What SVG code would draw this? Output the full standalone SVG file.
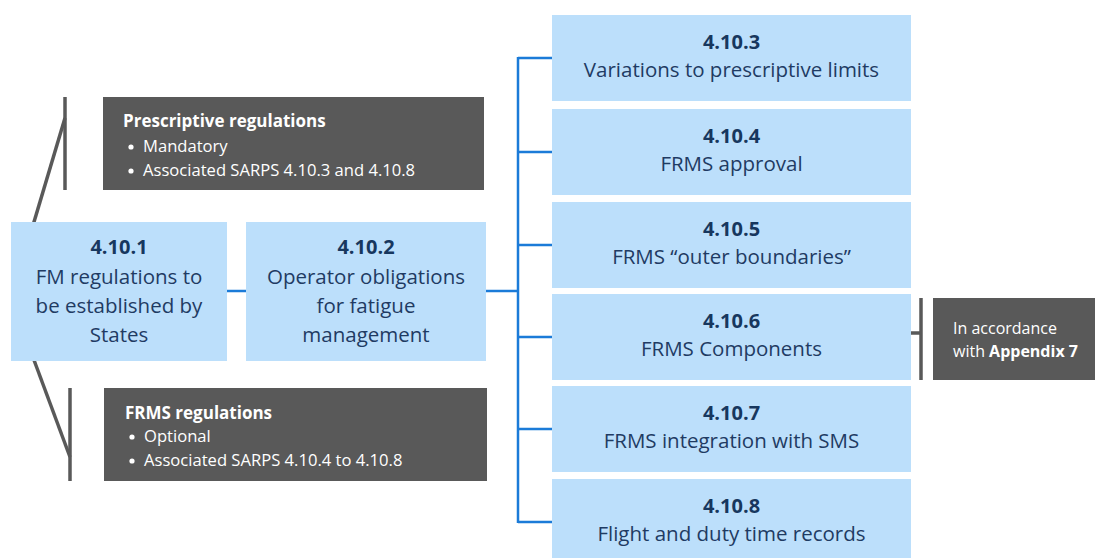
<svg xmlns="http://www.w3.org/2000/svg" width="1095" height="558" viewBox="0 0 1095 558">
<style>
.lb{fill:#bcdffb;}
.db{fill:#595959;}
.num{font-family:"Open Sans","Liberation Sans",sans-serif;font-size:20px;font-weight:bold;fill:#17375e;text-anchor:middle;}
.lbl{font-family:"Open Sans","Liberation Sans",sans-serif;font-size:20.5px;fill:#1f3b63;text-anchor:middle;}
.dt{font-family:"Open Sans","Liberation Sans",sans-serif;font-size:17px;font-weight:bold;fill:#ffffff;}
.dl{font-family:"Open Sans","Liberation Sans",sans-serif;font-size:16.6px;fill:#ffffff;}
.rl{font-family:"Open Sans","Liberation Sans",sans-serif;font-size:16px;fill:#ffffff;}
.bu{fill:#ffffff;}
.gl{stroke:#595959;stroke-width:3.5;fill:none;}
.bl{stroke:#1b7bd8;stroke-width:2.5;fill:none;}
</style>
<rect width="1095" height="558" fill="#ffffff"/>
<g id="connectors">
<line class="gl" x1="65" y1="118" x2="31" y2="232"/>
<line class="gl" x1="31" y1="352" x2="70" y2="457"/>
<line class="gl" x1="65" y1="97" x2="65" y2="190"/>
<line class="gl" x1="70" y1="388" x2="70" y2="481"/>
<line class="gl" x1="911" y1="333" x2="921" y2="333"/>
<line class="gl" x1="921" y1="298" x2="921" y2="380"/>
<line class="bl" x1="227" y1="291" x2="246" y2="291"/>
<line class="bl" x1="486" y1="291" x2="518" y2="291"/>
<line class="bl" x1="518" y1="57" x2="518" y2="523"/>
<line class="bl" x1="518" y1="58" x2="552" y2="58"/>
<line class="bl" x1="518" y1="152" x2="552" y2="152"/>
<line class="bl" x1="518" y1="245" x2="552" y2="245"/>
<line class="bl" x1="518" y1="337" x2="552" y2="337"/>
<line class="bl" x1="518" y1="429" x2="552" y2="429"/>
<line class="bl" x1="518" y1="522" x2="552" y2="522"/>
</g>
<g id="n4101">
<rect class="lb" x="11" y="222" width="216" height="139"/>
<text class="num" x="119" y="254">4.10.1</text>
<text class="lbl" x="119" y="284">FM regulations to</text>
<text class="lbl" x="119" y="313">be established by</text>
<text class="lbl" x="119" y="342">States</text>
</g>
<g id="n4102">
<rect class="lb" x="246" y="222" width="240" height="139"/>
<text class="num" x="366" y="254">4.10.2</text>
<text class="lbl" x="366" y="284">Operator obligations</text>
<text class="lbl" x="366" y="313">for fatigue</text>
<text class="lbl" x="366" y="342">management</text>
</g>
<g id="prescriptive">
<rect class="db" x="103" y="97" width="381" height="93"/>
<text class="dt" x="123" y="127">Prescriptive regulations</text>
<circle class="bu" cx="131" cy="147" r="2.6"/>
<text class="dl" x="143" y="152">Mandatory</text>
<circle class="bu" cx="131" cy="171" r="2.6"/>
<text class="dl" x="143" y="176">Associated SARPS 4.10.3 and 4.10.8</text>
</g>
<g id="frms">
<rect class="db" x="104" y="388" width="383" height="93"/>
<text class="dt" x="125" y="419">FRMS regulations</text>
<circle class="bu" cx="132" cy="437" r="2.6"/>
<text class="dl" x="144" y="442">Optional</text>
<circle class="bu" cx="132" cy="461" r="2.6"/>
<text class="dl" x="144" y="466">Associated SARPS 4.10.4 to 4.10.8</text>
</g>
<g id="n4103">
<rect class="lb" x="552" y="15" width="359" height="86"/>
<text class="num" x="731.5" y="49">4.10.3</text>
<text class="lbl" x="731.5" y="77">Variations to prescriptive limits</text>
</g>
<g id="n4104">
<rect class="lb" x="552" y="109" width="359" height="86"/>
<text class="num" x="731.5" y="143">4.10.4</text>
<text class="lbl" x="731.5" y="171">FRMS approval</text>
</g>
<g id="n4105">
<rect class="lb" x="552" y="202" width="359" height="86"/>
<text class="num" x="731.5" y="236">4.10.5</text>
<text class="lbl" x="731.5" y="264">FRMS “outer boundaries”</text>
</g>
<g id="n4106">
<rect class="lb" x="552" y="294" width="359" height="86"/>
<text class="num" x="731.5" y="328">4.10.6</text>
<text class="lbl" x="731.5" y="356">FRMS Components</text>
</g>
<g id="n4107">
<rect class="lb" x="552" y="386" width="359" height="86"/>
<text class="num" x="731.5" y="420">4.10.7</text>
<text class="lbl" x="731.5" y="448">FRMS integration with SMS</text>
</g>
<g id="n4108">
<rect class="lb" x="552" y="479" width="359" height="86"/>
<text class="num" x="731.5" y="513">4.10.8</text>
<text class="lbl" x="731.5" y="541">Flight and duty time records</text>
</g>
<g id="appendix">
<rect class="db" x="933" y="298" width="162" height="82"/>
<text class="rl" x="953" y="334">In accordance</text>
<text class="rl" x="953" y="357">with <tspan font-weight="bold">Appendix 7</tspan></text>
</g>
</svg>
